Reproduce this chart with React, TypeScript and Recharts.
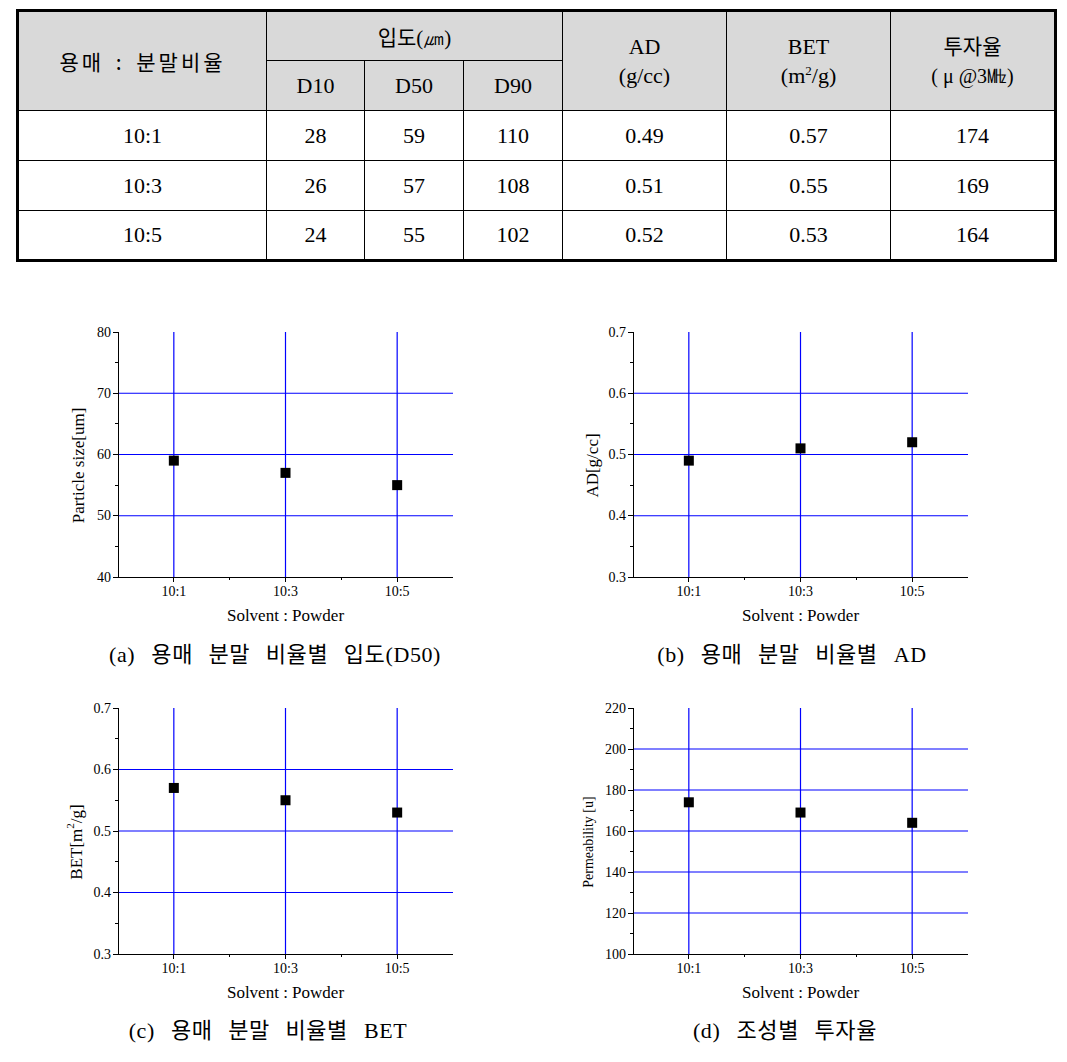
import React from "react";
import { ScatterChart, Scatter, XAxis, YAxis, CartesianGrid } from "recharts";

const ratios = ["10:1", "10:3", "10:5"];
const ratioPos = [1, 3, 5];
const xTicks = [1, 2, 3, 4, 5];

const d10 = [28, 26, 24];
const d50 = [59, 57, 55];
const d90 = [110, 108, 102];
const adValues = [0.49, 0.51, 0.52];
const betValues = [0.57, 0.55, 0.53];
const permValues = [174, 169, 164];

const sizeTicks = [40, 50, 60, 70, 80];
const adTicks = [0.3, 0.4, 0.5, 0.6, 0.7];
const betTicks = [0.3, 0.4, 0.5, 0.6, 0.7];
const permTicks = [100, 120, 140, 160, 180, 200, 220];

const SERIF = "'Liberation Serif', 'Times New Roman', serif";
const KR = "'Noto Sans CJK KR', sans-serif";
const BLUE = "#0000ff";
const PLOT_W = 335;
const AX_L = 70;
const AX_B = 55;
const PAD_T = 12;
const PAD_R = 12;

function withMinors(majors: number[]) {
  const out: number[] = [];
  majors.forEach((m, i) => {
    out.push(m);
    if (i < majors.length - 1) out.push(+((m + majors[i + 1]) / 2).toFixed(4));
  });
  return out;
}

const near = (list: number[], v: number) => list.some((m) => Math.abs(m - v) < 1e-9);

interface PanelProps {
  left: number;
  top: number;
  height: number;
  values: number[];
  majors: number[];
  fmt: (v: number) => string;
  yLabel: React.ReactNode;
  labelDx: number;
  labelSize: number;
}

function Panel({ left, top, height, values, majors, fmt, yLabel, labelDx, labelSize }: PanelProps) {
  const data = ratioPos.map((x, i) => ({ x, y: values[i] }));
  const ticks = withMinors(majors);
  const domain = [majors[0], majors[majors.length - 1]];

  return (
    <div style={{ position: "absolute", left: left - AX_L, top: top - PAD_T }}>
      <ScatterChart
        width={PLOT_W + AX_L + PAD_R}
        height={height + PAD_T + AX_B}
        margin={{ top: PAD_T, right: PAD_R, bottom: 0, left: 0 }}
      >
        <CartesianGrid
          xAxisId="b"
          yAxisId="l"
          stroke={BLUE}
          strokeWidth={1.2}
          horizontalValues={majors.slice(1, -1)}
          verticalValues={ratioPos}
        />
        <XAxis
          xAxisId="b"
          dataKey="x"
          type="number"
          domain={[0, 6]}
          ticks={xTicks}
          interval={0}
          height={AX_B}
          tickSize={0}
          tickMargin={0}
          tickLine={false}
          axisLine={{ stroke: "#000", shapeRendering: "crispEdges" }}
          tick={(p: any) => {
            const v = p.payload.value;
            const idx = ratioPos.indexOf(v);
            return (
              <g>
                <line x1={p.x} x2={p.x} y1={p.y} y2={p.y + (idx >= 0 ? 5 : 3)} stroke="#000" shapeRendering="crispEdges" />
                {idx >= 0 && (
                  <text x={p.x} y={p.y + 14} textAnchor="middle" dominantBaseline="central" fontSize={14} fontFamily={SERIF} fill="#000">
                    {ratios[idx]}
                  </text>
                )}
              </g>
            );
          }}
          label={{
            content: (lp: any) => {
              const vb = lp.viewBox;
              return (
                <text x={vb.x + vb.width / 2} y={vb.y + 38} textAnchor="middle" dominantBaseline="central" fontSize={17} fontFamily={SERIF} fill="#000">
                  Solvent : Powder
                </text>
              );
            },
          }}
        />
        <XAxis
          xAxisId="t"
          orientation="top"
          type="number"
          domain={[0, 6]}
          ticks={xTicks}
          interval={0}
          height={0}
          tickSize={0}
          tickMargin={0}
          tickLine={false}
          axisLine={{ stroke: "#000", shapeRendering: "crispEdges" }}
          tick={(p: any) => <line x1={p.x} x2={p.x} y1={p.y} y2={p.y + 3} stroke="#000" shapeRendering="crispEdges" />}
        />
        <YAxis
          yAxisId="l"
          dataKey="y"
          type="number"
          domain={domain}
          ticks={ticks}
          interval={0}
          width={AX_L}
          tickSize={0}
          tickMargin={0}
          tickLine={false}
          axisLine={{ stroke: "#000", shapeRendering: "crispEdges" }}
          tick={(p: any) => {
            const v = p.payload.value;
            const major = near(majors, v);
            return (
              <g>
                <line x1={p.x} x2={p.x - (major ? 5 : 3)} y1={p.y} y2={p.y} stroke="#000" shapeRendering="crispEdges" />
                {major && (
                  <text x={p.x - 7} y={p.y} textAnchor="end" dominantBaseline="central" fontSize={14} fontFamily={SERIF} fill="#000">
                    {fmt(v)}
                  </text>
                )}
              </g>
            );
          }}
          label={{
            content: (lp: any) => {
              const vb = lp.viewBox;
              const cx = vb.x + vb.width + labelDx;
              const cy = vb.y + vb.height / 2 + 11;
              return (
                <text
                  x={cx}
                  y={cy}
                  transform={`rotate(-90, ${cx}, ${cy})`}
                  textAnchor="middle"
                  dominantBaseline="central"
                  fontSize={labelSize}
                  fontFamily={SERIF}
                  fill="#000"
                >
                  {yLabel}
                </text>
              );
            },
          }}
        />
        <YAxis
          yAxisId="r"
          orientation="right"
          type="number"
          domain={domain}
          ticks={ticks}
          interval={0}
          width={0}
          tickSize={0}
          tickMargin={0}
          tickLine={false}
          axisLine={{ stroke: "#000", shapeRendering: "crispEdges" }}
          tick={(p: any) => {
            const major = near(majors, p.payload.value);
            return <line x1={p.x} x2={p.x - (major ? 5 : 3)} y1={p.y} y2={p.y} stroke="#000" shapeRendering="crispEdges" />;
          }}
        />
        <Scatter
          xAxisId="b"
          yAxisId="l"
          data={data}
          isAnimationActive={false}
          shape={(p: any) => <rect x={p.cx - 5} y={p.cy - 5} width={10} height={10} fill="#000" />}
        />
      </ScatterChart>
    </div>
  );
}

// caption: Latin in serif, Hangul in the CJK font
function Caption({ cx, top, parts }: { cx: number; top: number; parts: string[] }) {
  return (
    <div
      style={{
        position: "absolute",
        left: cx - 250,
        top,
        width: 500,
        textAlign: "center",
        whiteSpace: "pre",
        fontFamily: SERIF,
        fontSize: 22,
        lineHeight: "22px",
        wordSpacing: 10,
        letterSpacing: 0.6,
        color: "#000",
      }}
    >
      {parts.map((t, i) =>
        i % 2 === 1 ? (
          <span key={i} style={{ fontFamily: KR }}>
            {t}
          </span>
        ) : (
          <span key={i}>{t}</span>
        )
      )}
    </div>
  );
}

const cell: React.CSSProperties = {
  border: "1px solid #000",
  textAlign: "center",
  verticalAlign: "middle",
  padding: 0,
  fontFamily: SERIF,
};
const head: React.CSSProperties = { ...cell, background: "#d9d9d9" };
const twoLine: React.CSSProperties = { ...head, lineHeight: "29px" };

function DataTable() {
  return (
    <table
      style={{
        position: "absolute",
        left: 16,
        top: 9,
        width: 1038,
        height: 253,
        borderCollapse: "collapse",
        tableLayout: "fixed",
        border: "3px solid #000",
        fontFamily: SERIF,
        fontSize: 22,
        color: "#000",
      }}
    >
      <colgroup>
        <col style={{ width: 249 }} />
        <col style={{ width: 98 }} />
        <col style={{ width: 99 }} />
        <col style={{ width: 99 }} />
        <col style={{ width: 164 }} />
        <col style={{ width: 164 }} />
        <col style={{ width: 165 }} />
      </colgroup>
      <tbody>
        <tr style={{ height: 50 }}>
          <td rowSpan={2} style={{ ...head, fontSize: 21 }}>
            <span style={{ fontFamily: KR, letterSpacing: 3, wordSpacing: 4 }}>용매 : 분말비율</span>
          </td>
          <td colSpan={3} style={{ ...head, fontSize: 21 }}>
            <span style={{ fontFamily: KR }}>입도</span>(㎛)
          </td>
          <td rowSpan={2} style={twoLine}>
            AD
            <br />
            (g/cc)
          </td>
          <td rowSpan={2} style={twoLine}>
            BET
            <br />
            (m<sup style={{ fontSize: 13, lineHeight: 0 }}>2</sup>/g)
          </td>
          <td rowSpan={2} style={twoLine}>
            <span style={{ fontSize: 21, fontFamily: KR }}>투자율</span>
            <br />
            <span style={{ fontSize: 20 }}>( μ @3㎒)</span>
          </td>
        </tr>
        <tr style={{ height: 50 }}>
          <td style={head}>D10</td>
          <td style={head}>D50</td>
          <td style={head}>D90</td>
        </tr>
        {ratios.map((r, i) => (
          <tr key={r} style={{ height: 50 }}>
            <td style={cell}>{r}</td>
            <td style={cell}>{d10[i]}</td>
            <td style={cell}>{d50[i]}</td>
            <td style={cell}>{d90[i]}</td>
            <td style={cell}>{adValues[i].toFixed(2)}</td>
            <td style={cell}>{betValues[i].toFixed(2)}</td>
            <td style={cell}>{permValues[i]}</td>
          </tr>
        ))}
      </tbody>
    </table>
  );
}

export default function App() {
  return (
    <div style={{ position: "absolute", left: 0, top: 0, width: 1067, height: 1062, background: "#fff" }}>
      <DataTable />
      <Panel
        left={118}
        top={331.5}
        height={245}
        values={d50}
        majors={sizeTicks}
        fmt={(v) => String(v)}
        yLabel="Particle size[um]"
        labelDx={-40}
        labelSize={17}
      />
      <Panel
        left={633}
        top={331.5}
        height={245}
        values={adValues}
        majors={adTicks}
        fmt={(v) => v.toFixed(1)}
        yLabel="AD[g/cc]"
        labelDx={-41}
        labelSize={17}
      />
      <Panel
        left={118}
        top={708}
        height={246}
        values={betValues}
        majors={betTicks}
        fmt={(v) => v.toFixed(1)}
        yLabel={
          <>
            BET[m<tspan baselineShift="super" fontSize={11}>2</tspan>/g]
          </>
        }
        labelDx={-42}
        labelSize={17}
      />
      <Panel
        left={633}
        top={708}
        height={246}
        values={permValues}
        majors={permTicks}
        fmt={(v) => String(v)}
        yLabel="Permeability [u]"
        labelDx={-45}
        labelSize={14}
      />
      <Caption cx={275} top={641} parts={["(a) ", "용매 분말 비율별 입도", "(D50)"]} />
      <Caption cx={792} top={641} parts={["(b) ", "용매 분말 비율별", " AD"]} />
      <Caption cx={268} top={1017} parts={["(c) ", "용매 분말 비율별", " BET"]} />
      <Caption cx={785} top={1017} parts={["(d) ", "조성별 투자율", ""]} />
    </div>
  );
}
